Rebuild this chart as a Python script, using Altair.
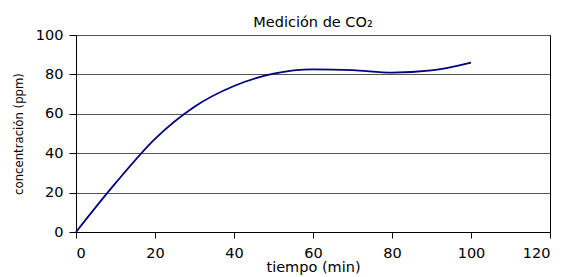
import altair as alt
import pandas as pd

tiempo = [0, 10, 20, 30, 40, 50, 60, 70, 80, 90, 100]
concentracion = [0, 24.8, 47.3, 63.6, 74.1, 80.4, 82.6, 82.2, 80.9, 82.0, 86.0]

df = pd.DataFrame({"tiempo": tiempo, "conc": concentracion})

FONT = "DejaVu Sans"

line = alt.Chart(df).mark_line(
    color="#000080", strokeWidth=1.8, interpolate="monotone"
).encode(
    x=alt.X("tiempo:Q", scale=alt.Scale(domain=[0, 120], nice=False),
            axis=alt.Axis(values=[0, 20, 40, 60, 80, 100, 120], title="tiempo (min)",
                          grid=False, domainColor="black", tickColor="black",
                          tickSize=6, labelFontSize=14.5, titleFontSize=14.5,
                          labelColor="black", titleColor="black",
                          labelFont=FONT, titleFont=FONT, titleFontWeight="normal",
                          labelPadding=8, titlePadding=1)),
    y=alt.Y("conc:Q", scale=alt.Scale(domain=[0, 100], nice=False),
            axis=alt.Axis(values=[0, 20, 40, 60, 80, 100], title="concentración (ppm)",
                          grid=True, gridColor="#555555", gridWidth=1,
                          domainColor="black", tickColor="black", tickSize=7,
                          labelFontSize=14.5, titleFontSize=11.7,
                          labelColor="black", titleColor="black",
                          labelFont=FONT, titleFont=FONT, titleFontWeight="normal",
                          labelPadding=6, titlePadding=11)),
)

chart = line.properties(
    width=474, height=197,
    title=alt.TitleParams("Medición de CO₂", fontSize=14.5, font=FONT,
                          fontWeight="normal", color="black", offset=-3),
    autosize=alt.AutoSizeParams(type="none"),
    padding={"left": 68, "top": 27, "right": 9, "bottom": 45},
).configure_view(stroke="black", strokeWidth=1)

chart.save("out.html", embed_options={"renderer": "svg", "actions": False})
